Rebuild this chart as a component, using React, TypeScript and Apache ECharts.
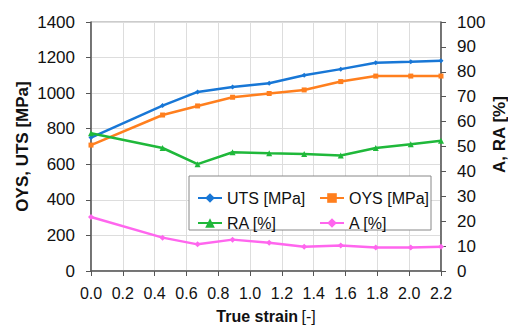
import React, { useEffect, useRef } from "react";
import * as echarts from "echarts";

const strain = [0, 0.45, 0.67, 0.89, 1.12, 1.34, 1.57, 1.79, 2.01, 2.2];
const uts = [750, 930, 1007, 1035, 1056, 1101, 1135, 1171, 1176, 1182];
const oys = [708, 877, 928, 977, 998, 1018, 1065, 1096, 1096, 1096];
const ra = [55.3, 49.4, 42.9, 47.7, 47.3, 47.0, 46.4, 49.4, 50.9, 52.3];
const aVals = [21.7, 13.4, 10.7, 12.6, 11.3, 9.7, 10.2, 9.4, 9.4, 9.7];

const FONT = "Liberation Sans";

export default function App() {
  const ref = useRef<HTMLDivElement>(null);
  useEffect(() => {
    const chart = echarts.init(ref.current!, null, { renderer: "svg" });
    const pts = (ys: number[]) => strain.map((x, i) => [x, ys[i]]);
    const mk = (name: string, data: number[], color: string, symbol: string, size: number, yIdx: number) => ({
      name,
      type: "line",
      yAxisIndex: yIdx,
      data: pts(data),
      symbol,
      symbolSize: size,
      showSymbol: true,
      lineStyle: { color, width: 2.5 },
      itemStyle: { color },
      z: 3,
    });
    chart.setOption({
      animation: false,
      textStyle: { fontFamily: FONT },
      grid: {
        left: 91,
        right: 67,
        top: 22,
        bottom: 56,
        show: true,
        borderColor: "#999",
        borderWidth: 1,
        containLabel: false,
        outerBoundsMode: "none",
      },
      graphic: [
        {
          type: "rect",
          shape: { x: 189, y: 176, width: 242, height: 54 },
          style: { fill: "#fff", stroke: "#888", lineWidth: 1 },
          z: 3.5,
        },
      ],
      legend: [
        {
          data: ["UTS [MPa]", "RA [%]"],
          orient: "vertical",
          left: 192,
          top: 185,
          itemWidth: 24,
          itemHeight: 12,
          itemGap: 9,
          textStyle: { fontSize: 16, color: "#111", fontFamily: FONT },
          z: 5,
        },
        {
          data: ["OYS [MPa]", "A [%]"],
          orient: "vertical",
          left: 314,
          top: 185,
          itemWidth: 24,
          itemHeight: 12,
          itemGap: 9,
          textStyle: { fontSize: 16, color: "#111", fontFamily: FONT },
          z: 5,
        },
      ],
      xAxis: {
        type: "value",
        min: 0,
        max: 2.2,
        interval: 0.2,
        name: "{b|True strain} {n|[-]}",
        nameLocation: "middle",
        nameGap: 37,
        nameMoveOverlap: false,
        nameTextStyle: {
          rich: {
            b: { fontSize: 16, fontWeight: "bold", color: "#111", fontFamily: FONT },
            n: { fontSize: 16, color: "#111", fontFamily: FONT },
          },
        },
        axisLine: { lineStyle: { color: "#555", width: 1.5 } },
        axisTick: { show: true, inside: false, length: 5, lineStyle: { color: "#555" } },
        axisLabel: { fontSize: 16, color: "#111", margin: 14, formatter: (v: number) => v.toFixed(1) },
        splitLine: { show: true, lineStyle: { color: "#ddd", width: 1 } },
      },
      yAxis: [
        {
          type: "value",
          min: 0,
          max: 1400,
          interval: 200,
          name: "OYS, UTS [MPa]",
          nameLocation: "middle",
          nameGap: 60,
          nameMoveOverlap: false,
          nameTextStyle: { fontSize: 17, fontWeight: "bold", color: "#111", fontFamily: FONT },
          axisLine: { show: true, lineStyle: { color: "#555", width: 1.5 } },
          axisTick: { show: true, length: 5, lineStyle: { color: "#555" } },
          axisLabel: { fontSize: 17, color: "#111", margin: 16, formatter: (v: number) => String(v) },
          splitLine: { show: true, lineStyle: { color: "#ddd", width: 1 } },
        },
        {
          type: "value",
          min: 0,
          max: 100,
          interval: 10,
          position: "right",
          name: "A, RA [%]",
          nameLocation: "middle",
          nameGap: 50,
          nameRotate: 90,
          nameMoveOverlap: false,
          nameTextStyle: { fontSize: 17, fontWeight: "bold", color: "#111", fontFamily: FONT, padding: [0, 0, 0, 24] },
          axisLine: { show: true, lineStyle: { color: "#555", width: 1.5 } },
          axisTick: { show: true, length: 5, lineStyle: { color: "#555" } },
          axisLabel: { fontSize: 17, color: "#111", margin: 16, formatter: (v: number) => String(v) },
          splitLine: { show: false },
        },
      ],
      series: [
        mk("UTS [MPa]", uts, "#1877d6", "diamond", 5, 0),
        mk("OYS [MPa]", oys, "#ff7f1e", "rect", 5, 0),
        mk("RA [%]", ra, "#1fb83a", "triangle", 6, 1),
        mk("A [%]", aVals, "#ff66ee", "diamond", 6, 1),
      ],
    });
    return () => chart.dispose();
  }, []);
  return <div ref={ref} style={{ width: 508, height: 327, position: "absolute", left: 0, top: 0 }} />;
}
